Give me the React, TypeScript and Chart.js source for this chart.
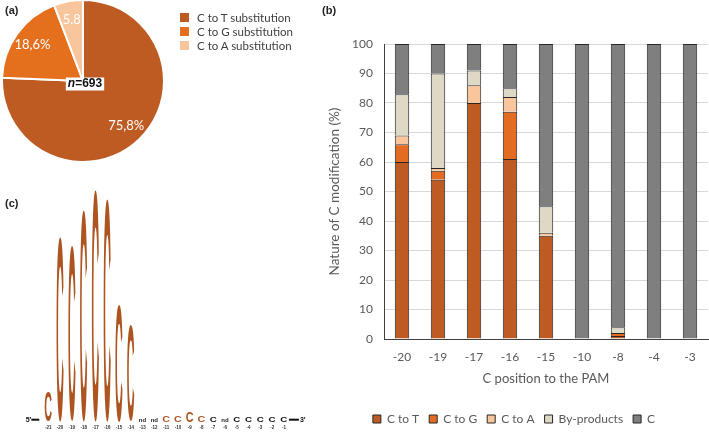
import React, { useEffect, useRef } from "react";
import { Chart, registerables } from "chart.js";
Chart.register(...registerables);

// ---------- (a) pie data ----------
const pieLabels = ["C to T substitution", "C to G substitution", "C to A substitution"];
const pieValues = [75.8, 18.6, 5.8];
const pieValueLabels = ["75,8%", "18,6%", "5.8"];
const pieTotal = "693";

// ---------- (b) stacked bar data ----------
const positions = ["-20", "-19", "-17", "-16", "-15", "-10", "-8", "-4", "-3"];
const cToT = [60, 54, 80, 61, 35, 0, 1, 0, 0];
const cToG = [6, 3, 0, 16, 0, 0, 1, 0, 0];
const cToA = [3, 1, 6, 5, 1, 0, 0, 0, 0];
const byProducts = [14, 32, 5, 3, 9, 0, 2, 0, 0];
const cUnmodified = [17, 10, 9, 15, 55, 100, 96, 100, 100];
const seriesNames = ["C to T", "C to G", "C to A", "By-products", "C"];

// ---------- (c) logo data ----------
const logoPositions = ["-21", "-20", "-19", "-18", "-17", "-16", "-15", "-14", "-13", "-12", "-11", "-10", "-9", "-8", "-7", "-6", "-5", "-4", "-3", "-2", "-1"];
const logoHeights: (number | null)[] = [30, 185, 175, 212, 232, 223, 117, 96, null, null, 7, 6, 10, 7, 5, null, 5, 5, 5, 5, 5];
const logoEdited = [true, true, true, true, true, true, true, true, false, false, true, true, true, true, false, false, false, false, false, false, false];

const COL_T = "#BE5B22";
const COL_G = "#E46C22";
const COL_A = "#F8C59C";
const COL_BP = "#DDD9C4";
const COL_C = "#7F7F7F";
const LOGO_COL = "#AD5420";
const FONT = "Lato";
const TXT = "#595959";

const z = (v: number) => (v === 0 ? null : v);

function PieChart() {
  const ref = useRef<HTMLCanvasElement>(null);
  useEffect(() => {
    const labelPlugin = {
      id: "pieLabels",
      afterDraw(chart: any) {
        const ctx = chart.ctx;
        const meta = chart.getDatasetMeta(0);
        ctx.save();
        meta.data.forEach((arc: any, i: number) => {
          const { x, y, startAngle, endAngle, outerRadius } = arc.getProps(["x", "y", "startAngle", "endAngle", "outerRadius"], true);
          const a = (startAngle + endAngle) / 2;
          const r = outerRadius * 0.77;
          ctx.font = `13px ${FONT}`;
          ctx.fillStyle = "#fff";
          ctx.textAlign = "center";
          ctx.textBaseline = "middle";
          ctx.fillText(pieValueLabels[i], x + Math.cos(a) * r, y + Math.sin(a) * r);
        });
        const a0 = meta.data[0];
        const cx = a0.x + 2;
        const cy = a0.y + 3;
        ctx.font = `italic bold 12px "Liberation Sans"`;
        const w1 = ctx.measureText("n").width;
        ctx.font = `bold 12px "Liberation Sans"`;
        const w2 = ctx.measureText("=" + pieTotal).width;
        const tw = w1 + w2;
        ctx.fillStyle = "#fff";
        ctx.fillRect(cx - tw / 2 - 2, cy - 6.5, tw + 4, 13);
        ctx.fillStyle = "#111";
        ctx.textAlign = "left";
        ctx.textBaseline = "middle";
        ctx.font = `italic bold 12px "Liberation Sans"`;
        ctx.fillText("n", cx - tw / 2, cy);
        ctx.font = `bold 12px "Liberation Sans"`;
        ctx.fillText("=" + pieTotal, cx - tw / 2 + w1, cy);
        ctx.restore();
      },
    };
    const chart = new Chart(ref.current!, {
      type: "pie",
      data: {
        labels: pieLabels,
        datasets: [
          {
            data: pieValues,
            backgroundColor: [COL_T, "#E4701E", COL_A],
            borderColor: "#fff",
            borderWidth: 2,
          },
        ],
      },
      options: {
        animation: false,
        responsive: false,
        maintainAspectRatio: false,
        plugins: { legend: { display: false }, tooltip: { enabled: false } },
      },
      plugins: [labelPlugin],
    } as any);
    return () => chart.destroy();
  }, []);
  return <canvas ref={ref} width={164} height={164} style={{ position: "absolute", left: 1, top: -1, width: 164, height: 164 }} />;
}

function BarChart() {
  const ref = useRef<HTMLCanvasElement>(null);
  useEffect(() => {
    const mk = (label: string, data: number[], color: string) => ({
      label,
      data: data.map(z),
      backgroundColor: color,
      borderColor: "#262626",
      borderWidth: 1,
      categoryPercentage: 1,
      barPercentage: 0.4,
    });
    const chart = new Chart(ref.current!, {
      type: "bar",
      data: {
        labels: positions,
        datasets: [
          mk(seriesNames[0], cToT, COL_T),
          mk(seriesNames[1], cToG, COL_G),
          mk(seriesNames[2], cToA, COL_A),
          mk(seriesNames[3], byProducts, COL_BP),
          mk(seriesNames[4], cUnmodified, COL_C),
        ],
      },
      options: {
        animation: false,
        responsive: false,
        maintainAspectRatio: false,
        layout: { padding: { top: 44, right: 1, left: 0, bottom: 0 } },
        plugins: {
          tooltip: { enabled: false },
          legend: {
            position: "bottom",
            labels: { boxWidth: 8, boxHeight: 8, padding: 10, color: TXT, font: { family: FONT, size: 12 } },
          },
        },
        scales: {
          x: {
            stacked: true,
            grid: { display: false, drawTicks: false },
            border: { color: "#404040", width: 1 },
            ticks: { color: TXT, padding: 11, font: { family: FONT, size: 12 } },
            title: { display: true, text: "C position to the PAM", color: TXT, font: { family: FONT, size: 13 }, padding: { top: 0, bottom: 16 } },
            afterFit(s: any) {
              s.height = 64;
            },
          },
          y: {
            stacked: true,
            min: 0,
            max: 100,
            ticks: { stepSize: 10, color: TXT, padding: 11, font: { family: FONT, size: 12 } },
            grid: { color: "#d9d9d9", drawTicks: false },
            border: { color: "#404040" },
            title: { display: true, text: "Nature of C modification (%)", color: TXT, font: { family: FONT, size: 13.5 }, padding: { top: 7, bottom: 0 } },
            afterFit(s: any) {
              s.width = 64;
            },
          },
        },
      },
    } as any);
    return () => chart.destroy();
  }, []);
  return <canvas ref={ref} width={389} height={435} style={{ position: "absolute", left: 320, top: 0, width: 389, height: 435 }} />;
}

function LogoChart() {
  const ref = useRef<HTMLCanvasElement>(null);
  useEffect(() => {
    const glyphPlugin = {
      id: "logoGlyphs",
      afterDatasetsDraw(chart: any) {
        const ctx = chart.ctx;
        const meta = chart.getDatasetMeta(0);
        const xs = chart.scales.x;
        const ys = chart.scales.y;
        const base = ys.getPixelForValue(0);
        ctx.save();
        const GF = `bold 100px "Liberation Sans"`;
        ctx.font = GF;
        const m = ctx.measureText("C");
        const gl = m.actualBoundingBoxLeft;
        const gw = m.actualBoundingBoxLeft + m.actualBoundingBoxRight;
        const ga = m.actualBoundingBoxAscent;
        const gh = m.actualBoundingBoxAscent + m.actualBoundingBoxDescent;
        meta.data.forEach((el: any, i: number) => {
          const v = logoHeights[i];
          const cx = xs.getPixelForValue(i);
          if (v == null) {
            ctx.font = `bold 6px "Liberation Sans"`;
            ctx.fillStyle = "#222";
            ctx.textAlign = "center";
            ctx.textBaseline = "alphabetic";
            ctx.fillText("nd", cx, base);
          } else {
            const { x, y, base: b, width } = el.getProps(["x", "y", "base", "width"], true);
            const h = b - y;
            const w = logoEdited[i] ? width : width * 0.9;
            ctx.save();
            ctx.translate(x - w / 2, y);
            ctx.scale(w / gw, h / gh);
            ctx.font = GF;
            ctx.fillStyle = logoEdited[i] ? LOGO_COL : "#111";
            ctx.textAlign = "left";
            ctx.textBaseline = "alphabetic";
            ctx.fillText("C", gl, ga);
            ctx.restore();
          }
          ctx.font = `bold 4.5px "Liberation Sans"`;
          ctx.fillStyle = "#333";
          ctx.textAlign = "center";
          ctx.textBaseline = "top";
          ctx.fillText(logoPositions[i], cx, base + 4);
        });
        const x0 = xs.getPixelForValue(0);
        const x1 = xs.getPixelForValue(logoPositions.length - 1);
        ctx.fillStyle = "#111";
        ctx.font = `bold 7px "Liberation Sans"`;
        ctx.textBaseline = "alphabetic";
        ctx.textAlign = "right";
        ctx.fillText("5\u2032", x0 - 17, base);
        ctx.fillRect(x0 - 17, base - 3, 8, 2);
        ctx.fillRect(x1 + 5, base - 3, 10, 2);
        ctx.textAlign = "left";
        ctx.fillText("3\u2032", x1 + 16, base);
        ctx.restore();
      },
    };
    const chart = new Chart(ref.current!, {
      type: "bar",
      data: {
        labels: logoPositions,
        datasets: [
          {
            data: logoHeights,
            backgroundColor: "rgba(0,0,0,0)",
            borderWidth: 0,
            categoryPercentage: 1,
            barPercentage: 0.6,
          },
        ],
      },
      options: {
        animation: false,
        responsive: false,
        maintainAspectRatio: false,
        layout: { padding: { top: 0, left: 42.4, right: 40.2, bottom: 10.3 } },
        plugins: { legend: { display: false }, tooltip: { enabled: false } },
        scales: {
          x: { display: false },
          y: { display: false, min: 0, max: 242 },
        },
      },
      plugins: [glyphPlugin],
    } as any);
    return () => chart.destroy();
  }, []);
  return <canvas ref={ref} width={330} height={252} style={{ position: "absolute", left: 0, top: 180, width: 330, height: 252 }} />;
}

const panelLabel: React.CSSProperties = {
  position: "absolute",
  fontFamily: '"Liberation Sans", Arial, sans-serif',
  fontWeight: "bold",
  fontSize: 11,
  color: "#222",
  lineHeight: "12px",
};

export default function App() {
  const legendColors = [COL_T, "#E4701E", COL_A];
  return (
    <div style={{ position: "fixed", left: 0, top: 0, width: 709, height: 432, overflow: "hidden", background: "#fff" }}>
      <PieChart />
      <BarChart />
      <LogoChart />
      <div style={{ ...panelLabel, left: 5, top: 4 }}>(a)</div>
      <div style={{ ...panelLabel, left: 322, top: 4 }}>(b)</div>
      <div style={{ ...panelLabel, left: 5, top: 197 }}>(c)</div>
      {pieLabels.map((l, i) => (
        <div key={l} style={{ position: "absolute", left: 180, top: 10 + i * 14.4, height: 14, display: "flex", alignItems: "center", fontFamily: FONT, fontSize: 11.5, color: "#404040", whiteSpace: "nowrap" }}>
          <span style={{ display: "inline-block", width: 9, height: 9, background: legendColors[i], marginRight: 8 }} />
          {l}
        </div>
      ))}
    </div>
  );
}
